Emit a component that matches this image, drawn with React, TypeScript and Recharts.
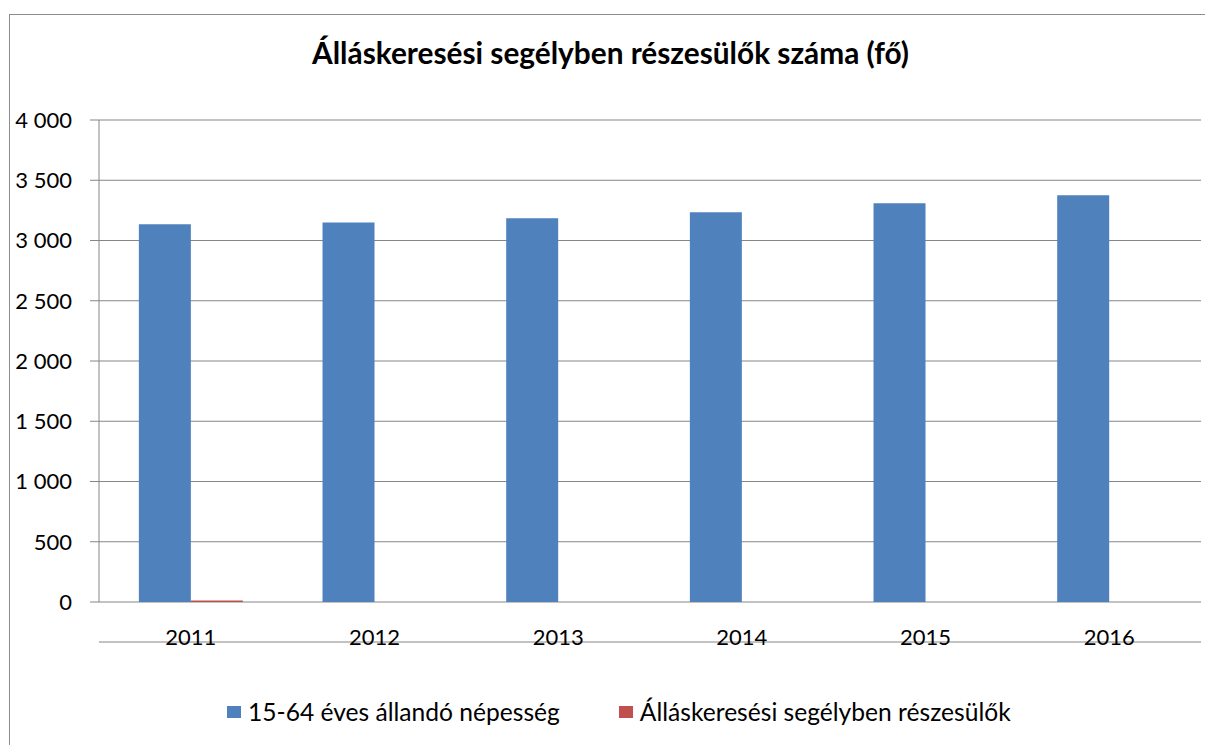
import { BarChart, Bar, XAxis, YAxis, CartesianGrid } from "recharts"

// values
const years = ["2011", "2012", "2013", "2014", "2015", "2016"]
const population = [3135, 3150, 3185, 3235, 3310, 3376]
const recipients = [12, 0, 0, 0, 0, 0]
const yTicks = [0, 500, 1000, 1500, 2000, 2500, 3000, 3500, 4000]
const boundaryTicks = years.map((_, i) => i).concat(years.length)

const seriesNames = ["15-64 éves állandó népesség", "Álláskeresési segélyben részesülők"]
const colors = ["#4F81BD", "#C0504D"]

const data = years.map((year, i) => ({
  year,
  population: population[i],
  recipients: recipients[i],
}))

const font = "Lato, 'Open Sans', sans-serif"
const axisGray = "#868686"
const frameGray = "#8c8c8c"

const fmt = (v: number) => String(v).replace(/\B(?=(\d{3})+(?!\d))/g, " ")

export default function App() {
  return (
    <div style={{ position: "absolute", left: 0, top: 0, width: 1205, height: 745, background: "#fff", fontFamily: font, overflow: "hidden" }}>
      {/* outer chart frame, only its left and top edges fall inside the picture */}
      <div style={{ position: "absolute", left: 9, top: 14, width: 1196, height: 1, background: frameGray }} />
      <div style={{ position: "absolute", left: 9, top: 14, width: 1, height: 731, background: frameGray }} />

      <div style={{ position: "absolute", left: 8, top: 35, width: 1205, textAlign: "center", fontSize: 29.8, fontWeight: 700, color: "#000", lineHeight: 1.2 }}>
        Álláskeresési segélyben részesülők száma (fő)
      </div>

      <div style={{ position: "absolute", left: 0, top: 0 }}>
        <BarChart
          width={1205}
          height={745}
          data={data}
          margin={{ top: 120, right: 4, bottom: 102, left: 0 }}
          barCategoryGap="21.7%"
          barGap={0}
        >
          <CartesianGrid vertical={false} stroke={axisGray} strokeWidth={1} />
          {/* ticks on category boundaries, as in Excel */}
          <XAxis
            xAxisId="marks"
            type="number"
            domain={[0, years.length]}
            ticks={boundaryTicks}
            height={1}
            axisLine={{ stroke: axisGray }}
            tickLine={{ stroke: axisGray }}
            tickSize={8}
            tick={false}
          />
          <XAxis
            xAxisId="cat"
            dataKey="year"
            height={40}
            axisLine={false}
            tickLine={false}
            tickSize={0}
            tickMargin={27}
            tick={{ fill: "#000", fontSize: 22, fontFamily: font }}
          />
          <YAxis
            width={99}
            domain={[0, 4000]}
            ticks={yTicks}
            tickFormatter={fmt}
            axisLine={{ stroke: axisGray }}
            tickLine={{ stroke: axisGray }}
            tickSize={9}
            tickMargin={18}
            tick={{ fill: "#000", fontSize: 22, fontFamily: font }}
          />
          <Bar xAxisId="cat" dataKey="population" name={seriesNames[0]} fill={colors[0]} isAnimationActive={false} />
          <Bar xAxisId="cat" dataKey="recipients" name={seriesNames[1]} fill={colors[1]} isAnimationActive={false} />
        </BarChart>
      </div>

      {/* legend */}
      <div style={{ position: "absolute", left: 227, top: 697, display: "flex", fontSize: 24.6, color: "#000", lineHeight: "30px", whiteSpace: "nowrap" }}>
        {seriesNames.map((name, i) => (
          <div key={name} style={{ display: "flex", alignItems: "center", marginRight: i === 0 ? 59 : 0 }}>
            <span style={{ width: 14, height: 12, background: colors[i], display: "inline-block", marginRight: 7 }} />
            <span>{name}</span>
          </div>
        ))}
      </div>
    </div>
  )
}
